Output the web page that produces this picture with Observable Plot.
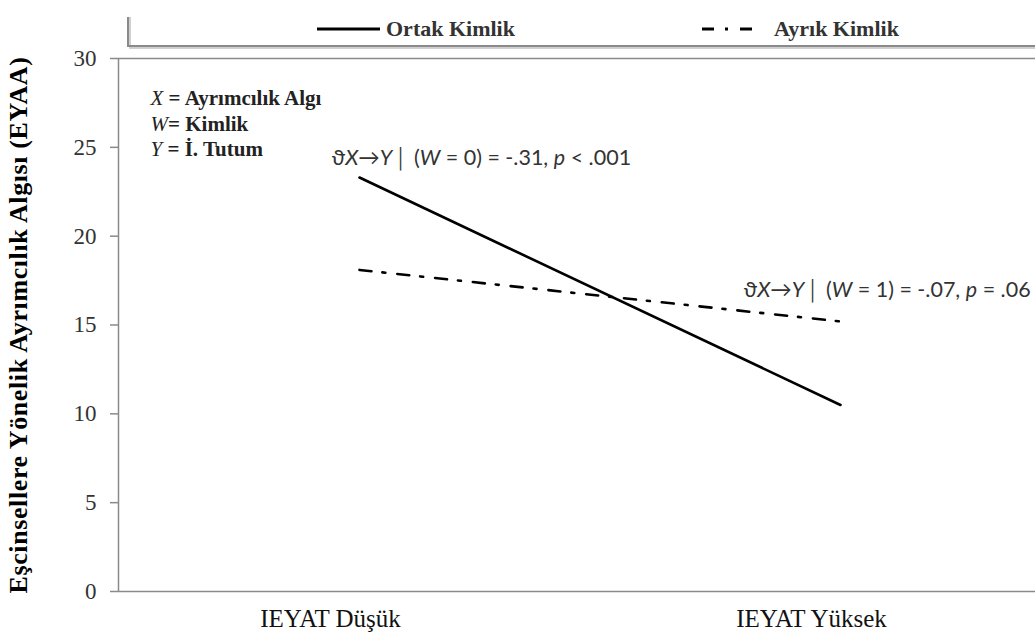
<!DOCTYPE html>
<html><head><meta charset="utf-8">
<script src="https://cdn.jsdelivr.net/npm/d3@7"></script>
<script src="https://cdn.jsdelivr.net/npm/@observablehq/plot@0.6"></script>
<style>
html,body{margin:0;padding:0;background:#fff;overflow:hidden;}
</style></head><body><div id="chart"></div>
<script>
const categories = ["IEYAT Düşük", "IEYAT Yüksek"];
const seriesNames = ["Ortak Kimlik", "Ayrık Kimlik"];
const ortakValues = [23.3, 10.5];
const ayrikValues = [18.1, 15.2];
const yTicks = [0, 5, 10, 15, 20, 25, 30];
const yLabel = "Eşcinsellere Yönelik Ayrımcılık Algısı (EYAA)";
const keyText = "*X* = Ayrımcılık Algı\n*W*= Kimlik\n*Y* = İ. Tutum";
const effectTexts = [
  "ϑ*X*→*Y*│ (*W* = 0) = -.31, *p* < .001",
  "ϑ*X*→*Y*│ (*W* = 1) = -.07, *p* = .06"
];

const ortak = categories.map((c, i) => ({cat: c, value: ortakValues[i]}));
const ayrik = categories.map((c, i) => ({cat: c, value: ayrikValues[i]}));
const dashDot = "12,11,3,12";
const serif = "Liberation Serif";

const plot = Plot.plot({
  width: 1035,
  height: 642,
  marginTop: 58,
  marginBottom: 51,
  marginLeft: 118,
  marginRight: -46,
  style: {fontFamily: serif, background: "#fff"},
  x: {type: "point", domain: categories, padding: 0.5},
  y: {domain: [0, 30]},
  marks: [
    Plot.frame({stroke: "#8a8a8a", strokeWidth: 1.5}),
    Plot.axisY({ticks: yTicks, tickSize: 8, tickPadding: 14, fontSize: 23, fontFamily: serif,
      stroke: "#8a8a8a", strokeWidth: 1.5, fill: "#333", label: null}),
    Plot.axisX({tickSize: 0, tickPadding: 18, fontSize: 25, fontFamily: serif, fill: "#111",
      dx: -29, label: null}),
    Plot.lineY(ortak, {x: "cat", y: "value", stroke: "#000", strokeWidth: 2.6}),
    Plot.lineY(ayrik, {x: "cat", y: "value", stroke: "#000", strokeWidth: 2.6, strokeDasharray: dashDot}),
    Plot.text([yLabel], {frameAnchor: "left", dx: -100, rotate: -90, textAnchor: "middle", fontSize: 26,
      fontWeight: "bold", fontFamily: serif, fill: "#000"}),
    Plot.text([keyText], {frameAnchor: "top-left", dx: 32, dy: 29, lineAnchor: "top",
      textAnchor: "start", lineHeight: 1.2, fontSize: 21, fontWeight: "bold", fontFamily: serif, fill: "#222"}),
    Plot.text([{cat: categories[0], value: ortakValues[0], label: effectTexts[0]}],
      {x: "cat", y: "value", text: "label", dx: -28, dy: -19, textAnchor: "start",
       fontSize: 21.5, fontFamily: "Lato", fill: "#333"}),
    Plot.text([{cat: categories[1], value: ayrikValues[1], label: effectTexts[1]}],
      {x: "cat", y: "value", text: "label", dx: -97, dy: -31, textAnchor: "start",
       fontSize: 21.5, fontFamily: "Lato", fill: "#333"})
  ]
});

document.getElementById("chart").appendChild(plot);
const svg = d3.select(plot);

// make sure axis tick labels use the serif face
svg.selectAll("g[aria-label$='tick label']").attr("font-family", serif).style("font-variant", "normal");

// italic segments marked with *
svg.selectAll("text, tspan").each(function () {
  if (this.children.length === 0 && this.textContent.includes("*")) {
    const parts = this.textContent.split("*");
    this.textContent = "";
    const sel = d3.select(this);
    parts.forEach((p, i) => {
      if (!p) return;
      const t = sel.append("tspan").text(p);
      if (i % 2 === 1) t.attr("font-style", "italic").attr("font-weight", "normal");
    });
  }
});

// y label letter spacing
svg.selectAll("text").filter(function () { return this.textContent === yLabel; })
  .attr("letter-spacing", 0.6);

// legend in the top margin
const lg = svg.append("g").attr("text-anchor", "start");
lg.append("path").attr("d", "M130,17V48H1035").attr("fill", "none").attr("stroke", "#d0d0d0").attr("stroke-width", 2);
lg.append("path").attr("d", "M128,17V46H1035").attr("fill", "none").attr("stroke", "#8a8a8a").attr("stroke-width", 2);
const items = [
  {name: seriesNames[0], x1: 317, x2: 380, tx: 386, dash: null},
  {name: seriesNames[1], x1: 702, x2: 754, tx: 774, dash: dashDot}
];
items.forEach(it => {
  const l = lg.append("line").attr("x1", it.x1).attr("x2", it.x2).attr("y1", 29).attr("y2", 29)
    .attr("stroke", "#000").attr("stroke-width", 3);
  if (it.dash) l.attr("stroke-dasharray", it.dash);
  lg.append("text").attr("x", it.tx).attr("y", 36).attr("text-anchor", "start")
    .attr("font-family", serif).attr("font-size", 22)
    .attr("font-weight", "bold").attr("fill", "#333").text(it.name);
});
</script>
</body></html>
